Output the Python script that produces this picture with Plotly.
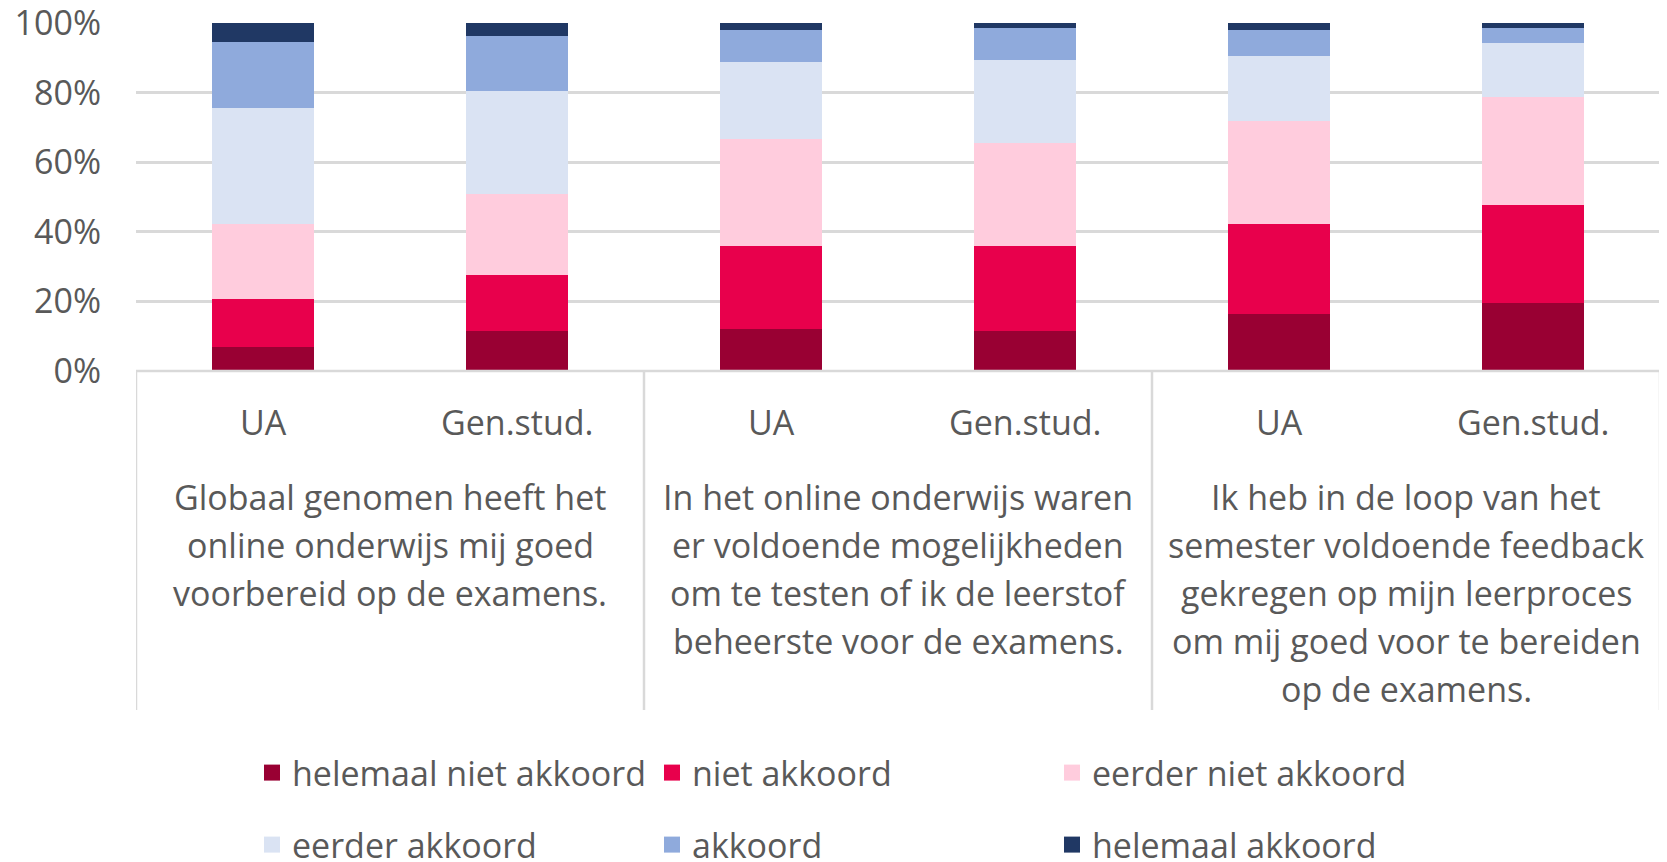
import plotly.graph_objects as go

# ---- data ----
bar_labels = ["UA", "Gen.stud.", "UA", "Gen.stud.", "UA", "Gen.stud."]
question_lines = [
    ["Globaal genomen heeft het", "online onderwijs mij goed", "voorbereid op de examens."],
    ["In het online onderwijs waren", "er voldoende mogelijkheden", "om te testen of ik de leerstof", "beheerste voor de examens."],
    ["Ik heb in de loop van het", "semester voldoende feedback", "gekregen op mijn leerproces", "om mij goed voor te bereiden", "op de examens."],
]
series_names = ["helemaal niet akkoord", "niet akkoord", "eerder niet akkoord",
                "eerder akkoord", "akkoord", "helemaal akkoord"]
helemaal_niet_akkoord = [7.0, 11.5, 12.0, 11.5, 16.4, 19.6]
niet_akkoord = [13.8, 16.2, 23.9, 24.4, 25.8, 28.2]
eerder_niet_akkoord = [21.4, 23.3, 30.8, 29.5, 29.6, 30.8]
eerder_akkoord = [33.3, 29.5, 22.0, 23.9, 18.8, 15.7]
akkoord = [18.9, 15.7, 9.4, 9.4, 7.5, 4.4]
helemaal_akkoord = [5.6, 3.8, 1.9, 1.3, 1.9, 1.3]
y_ticks = [0, 20, 40, 60, 80, 100]
y_tick_text = ["0%", "20%", "40%", "60%", "80%", "100%"]

series_values = [helemaal_niet_akkoord, niet_akkoord, eerder_niet_akkoord,
                 eerder_akkoord, akkoord, helemaal_akkoord]
colors = ["#990033", "#E8004C", "#FFCCDD", "#DAE3F3", "#8FAADC", "#203864"]

FONT = "Open Sans"
FS = 34
GREY = "#595959"
LINE = "#D9D9D9"

# page has an 8px body margin; figure sized to fit the 1667x862 window
OFF = 8
W, H = 1667 - OFF, 862 - OFF
# plot area in page pixels: left 136, right 1660, top 23, bottom 371
ml = 136 - OFF
mt = 23 - OFF
mr = W - (1660 - OFF)
mb = H - (371 - OFF)
ph = H - mt - mb
pw = W - ml - mr

def py(page_y):
    return ((371 - page_y)) / ph

def px(page_x):
    return (page_x - 136) / pw

xs = list(range(len(bar_labels)))

fig = go.Figure()
for i, (name, vals, col) in enumerate(zip(series_names, series_values, colors)):
    fig.add_trace(go.Bar(
        x=xs, y=vals, name=name, marker=dict(color=col, line=dict(width=0)),
        width=0.4, showlegend=False,
    ))
# legend entries (square swatches)
for i, (name, col) in enumerate(zip(series_names, colors)):
    fig.add_trace(go.Scatter(
        x=[None], y=[None], mode="markers", name=name,
        marker=dict(symbol="square", size=22, color=col),
        legend="legend" if i < 3 else "legend2", hoverinfo="skip",
    ))

annotations = []
for x, lab in zip(xs, bar_labels):
    annotations.append(dict(x=x, y=py(422), xref="x", yref="paper", text=lab,
                            showarrow=False, font=dict(family=FONT, size=FS, color=GREY),
                            xanchor="center", yanchor="middle"))
for g, lines in enumerate(question_lines):
    cx = (xs[2 * g] + xs[2 * g + 1]) / 2
    for k, line in enumerate(lines):
        annotations.append(dict(x=cx, y=py(497 + 48 * k), xref="x", yref="paper", text=line,
                                showarrow=False, font=dict(family=FONT, size=FS, color=GREY),
                                xanchor="center", yanchor="middle"))

shapes = []
for sx in [-0.5, 1.5, 3.5, 5.5]:
    shapes.append(dict(type="line", xref="x", yref="paper", x0=sx, x1=sx, y0=0, y1=py(710),
                       line=dict(color=LINE, width=2.5)))
shapes.append(dict(type="line", xref="paper", yref="paper", x0=0, x1=1, y0=0, y1=0,
                   line=dict(color=LINE, width=2.5)))

legend_common = dict(orientation="h", xanchor="left", yanchor="middle",
                     entrywidth=355, entrywidthmode="pixels", bgcolor="rgba(0,0,0,0)",
                     font=dict(family=FONT, size=FS, color=GREY), traceorder="normal")

lx = px(252)
fig.update_layout(
    width=W, height=H,
    margin=dict(l=ml, r=mr, t=mt, b=mb, autoexpand=False),
    paper_bgcolor="white", plot_bgcolor="white",
    barmode="stack",
    showlegend=True,
    legend=dict(x=lx, y=py(773), **legend_common),
    legend2=dict(x=lx, y=py(845), **legend_common),
    xaxis=dict(range=[-0.5, 5.5], showticklabels=False, showgrid=False, zeroline=False,
               showline=False, ticks=""),
    yaxis=dict(range=[0, 100], tickmode="array", tickvals=y_ticks, ticktext=y_tick_text,
               showgrid=True, gridcolor=LINE, gridwidth=2.5, zeroline=False, showline=False,
               tickfont=dict(family=FONT, size=FS, color=GREY), ticklabelstandoff=34,
               ticklabeloverflow="allow"),
    annotations=annotations,
    shapes=shapes,
)

fig.write_html("out.html")
